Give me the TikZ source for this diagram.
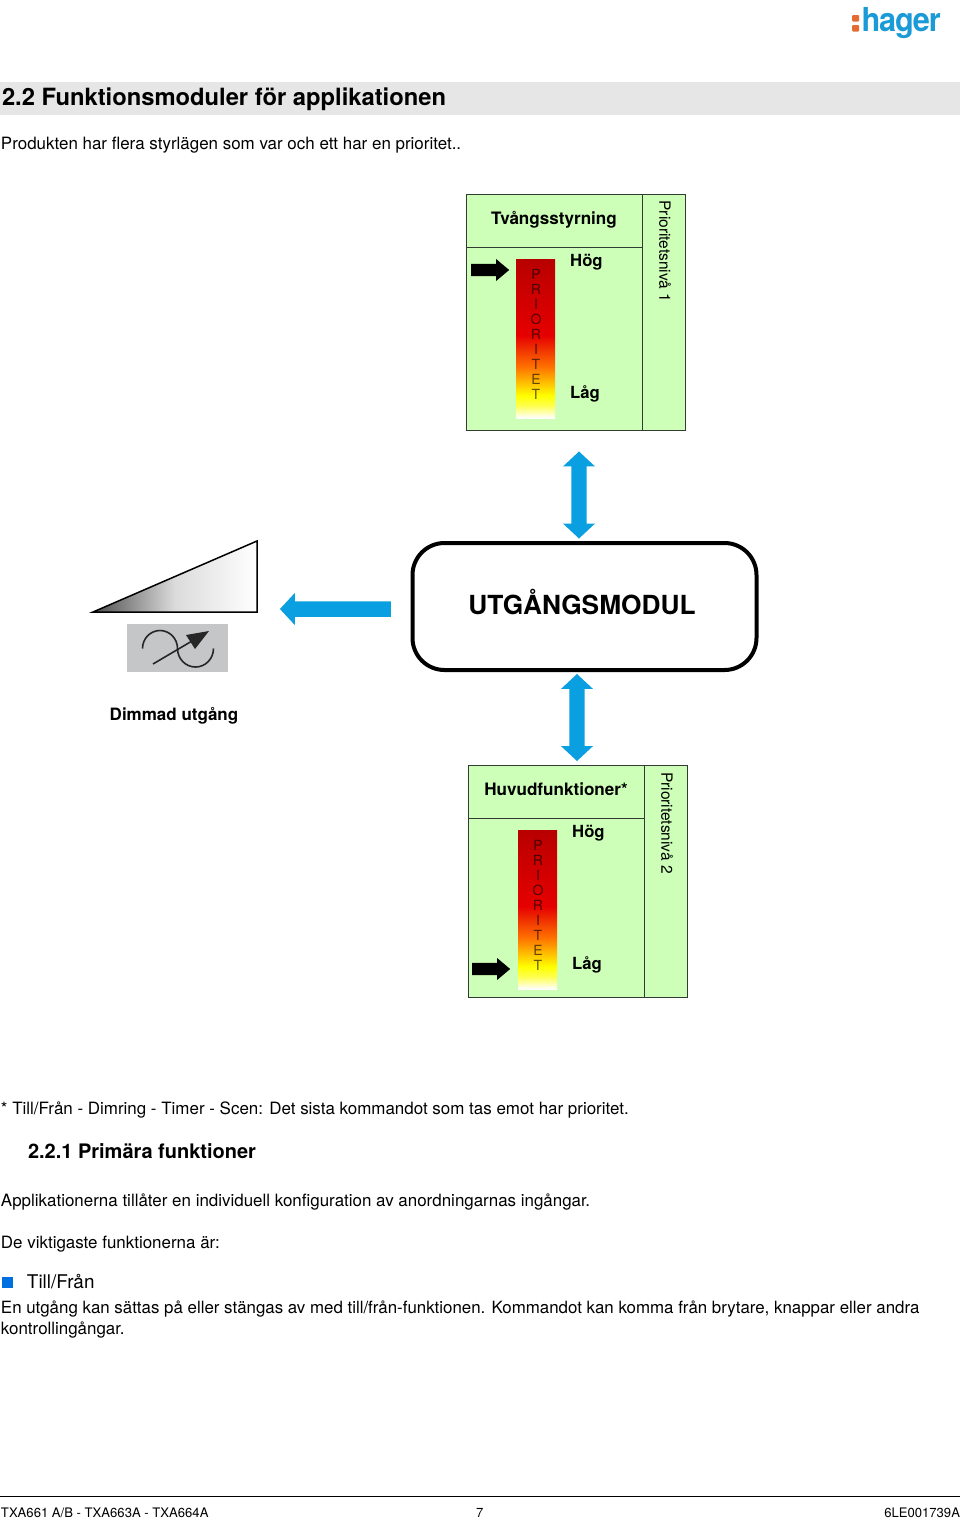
\documentclass[tikz,border=0pt]{standalone}
\usepackage{fontspec}
\setmainfont{TeX Gyre Heros}
\usetikzlibrary{shapes.arrows,positioning}
\definecolor{panelgreen}{RGB}{205,255,185}
\definecolor{blockblue}{RGB}{10,159,224}
\definecolor{bandgray}{RGB}{230,230,230}
\definecolor{symgray}{RGB}{197,198,200}
\definecolor{panelline}{RGB}{50,60,50}
\definecolor{logoblue}{RGB}{26,154,214}
\definecolor{logoorange}{RGB}{228,108,50}
\definecolor{bulletblue}{RGB}{0,112,224}
\pgfdeclareverticalshading{prio}{100bp}{
color(0bp)=(white);
color(25bp)=(white);
color(29bp)=(yellow!70!white);
color(32bp)=(yellow);
color(41bp)=(orange!90!red);
color(51bp)=(red!90!black);
color(62bp)=(red!82!black);
color(75bp)=(red!72!black);
color(100bp)=(red!72!black)}
\tikzset{
  x=1pt,y=-1pt,
  txt/.style={anchor=base west,inner sep=0,outer sep=0,font=\fontsize{16.95}{20}\selectfont},
  ptitle/.style={inner sep=0,font=\fontsize{17.1}{21}\bfseries\selectfont},
  plab/.style={anchor=base west,inner sep=0,font=\fontsize{16.7}{20}\bfseries\selectfont},
  prlab/.style={rotate=-90,inner sep=0,font=\fontsize{15.5}{20}\selectfont},
  bar/.style={shading=prio,minimum width=39,minimum height=159,inner sep=0,outer sep=0,draw=none},
  letter/.style={inner sep=0,text opacity=.62,font=\fontsize{14}{16}\selectfont},
  blackarrow/.style={single arrow,fill=black,draw=none,inner sep=4.95,outer sep=0,minimum height=38,minimum width=22,single arrow head extend=4,single arrow tip angle=80},
  blockv/.style={double arrow,shape border rotate=90,fill=blockblue,draw=none,inner sep=6.36,outer sep=0,minimum height=87,minimum width=32,double arrow head extend=7,double arrow tip angle=94},
  paneledge/.style={draw=panelline,line width=.9pt},
}
\newcommand{\prioletters}[3]{%
  \foreach \L [count=\i from 0] in {P,R,I,O,R,I,T,E,T}{
    \node[letter] (#1\i) at (#2,{#3+15*\i}) {\L};
  }}
\begin{document}
\begin{tikzpicture}
\useasboundingbox (0,0) rectangle (960,1519);
\fill[white] (0,0) rectangle (960,1519);

% logo
\fill[logoorange,rounded corners=1pt] (852,15) rectangle (859,21.5);
\fill[logoorange,rounded corners=1pt] (852,25) rectangle (859,31.5);
\node[anchor=base west,inner sep=0,text=logoblue,xscale=.93] (logo) at (861.5,31) {\fontsize{33}{36}\bfseries\addfontfeature{LetterSpace=-4}\selectfont hager};

% header
\fill[bandgray] (0,82) rectangle (960,115);
\node[txt,font=\fontsize{23.75}{28}\bfseries\selectfont] (title) at (2,105) {2.2 Funktionsmoduler för applikationen};
\node[txt] (intro) at (1,149) {Produkten har flera styrlägen som var och ett har en prioritet..};

% panel 1
\fill[panelgreen] (466,194) rectangle (685,430);
\draw[paneledge] (466,194) rectangle (685,430);
\draw[paneledge] (642,194) -- (642,430);
\draw[paneledge] (466,247) -- (642,247);
\node[ptitle] (t1) at (554,219.5) {Tvångsstyrning};
\node[bar] (bar1) at (535.5,338.5) {};
\prioletters{pa}{536}{274}
\node[plab] (hog1) at (570,266) {Hög};
\node[plab] (lag1) at (570,398) {Låg};
\node[prlab] (prio1) at (665,251.5) {Prioritetsnivå 1};
\node[blackarrow] (ba1) at (486.5,270) {};

% panel 2
\fill[panelgreen] (468,765) rectangle (687,997);
\draw[paneledge] (468,765) rectangle (687,997);
\draw[paneledge] (644,765) -- (644,997);
\draw[paneledge] (468,818) -- (644,818);
\node[ptitle] (t2) at (556,789) {Huvudfunktioner*};
\node[bar] (bar2) at (537.5,909.5) {};
\prioletters{pb}{538}{845}
\node[plab] (hog2) at (572,837) {Hög};
\node[plab] (lag2) at (572,969) {Låg};
\node[prlab] (prio2) at (667,823) {Prioritetsnivå 2};
\node[blackarrow] (ba2) at (487.5,969) {};

% module
\node[draw=black,line width=4pt,rounded corners=32pt,fill=white,minimum width=344,minimum height=127,inner sep=0] (modul) at (584.5,606.5) {};
\node[inner sep=0,font=\fontsize{26.3}{30}\bfseries\selectfont] (modtxt) at (582,602) {UTGÅNGSMODUL};

% block arrows
\node[blockv] (up) at (579,495) {};
\node[blockv] (down) at (577,717.5) {};
\node[single arrow,shape border rotate=180,fill=blockblue,draw=none,inner sep=6.36,outer sep=0,minimum height=111,minimum width=32,single arrow head extend=7,single arrow tip angle=94] (left) at (339,609) {};

% dimmer ramp
\path[left color=black!70,right color=white,middle color=black!14] (93,612) -- (257,541) -- (257,612) -- cycle;
\draw[black,line width=1.5pt,line join=miter] (93,612) -- (257,541) -- (257,612) -- cycle;
\fill[symgray] (127,624) rectangle (228,672);
\draw[black!85,line width=1.6pt] (142.5,648.5) arc[start angle=180,end angle=0,x radius=17.5,y radius=-18]
  arc[start angle=180,end angle=360,x radius=18,y radius=-18.5];
\draw[black!85,line width=1.6pt] (153,664) -- (192,641);
\fill[black!85] (209,631) -- (186,635) -- (195,649) -- cycle;
\node[inner sep=0,font=\fontsize{17}{20}\bfseries\selectfont] (dim) at (174,716) {Dimmad utgång};

% lower text
\node[txt] (note) at (1,1114) {* Till/Från - Dimring - Timer - Scen: Det sista kommandot som tas emot har prioritet.};
\node[txt,font=\fontsize{20}{24}\bfseries\selectfont] (h221) at (28,1158) {2.2.1 Primära funktioner};
\node[txt] (app) at (1,1206) {Applikationerna tillåter en individuell konfiguration av anordningarnas ingångar.};
\node[txt] (vikt) at (1,1248) {De viktigaste funktionerna är:};
\fill[bulletblue] (2,1277) rectangle (13,1288);
\node[txt,font=\fontsize{18.9}{22}\selectfont] (till) at (27,1288) {Till/Från};
\node[txt,font=\fontsize{16.88}{20}\selectfont] (en) at (1,1313) {En utgång kan sättas på eller stängas av med till/från-funktionen. Kommandot kan komma från brytare, knappar eller andra};
\node[txt] (kont) at (1,1334) {kontrollingångar.};

% footer
\draw[black,line width=.8pt] (0,1496) -- (960,1496);
\node[txt,font=\fontsize{13.1}{16}\selectfont] (f1) at (1,1517) {TXA661 A/B - TXA663A - TXA664A};
\node[txt,font=\fontsize{13.1}{16}\selectfont] (f2) at (476,1517) {7};
\node[txt,anchor=base east,font=\fontsize{13.1}{16}\selectfont] (f3) at (960,1517) {6LE001739A};
\end{tikzpicture}
\end{document}
